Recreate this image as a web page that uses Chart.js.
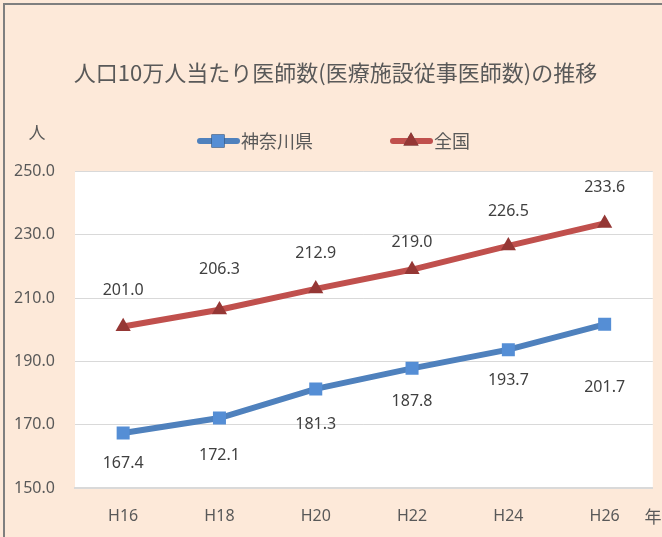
<!DOCTYPE html>
<html lang="ja">
<head>
<meta charset="utf-8">
<title>人口10万人当たり医師数の推移</title>
<script src="https://cdn.jsdelivr.net/npm/chart.js@4.4.1/dist/chart.umd.min.js"></script>
<style>
  html, body { margin: 0; padding: 0; background: #FDE9D9; overflow: hidden; }
  #wrap { position: relative; width: 662px; height: 537px; }
</style>
</head>
<body>
<div id="wrap"><canvas id="chart"></canvas></div>
<script>
const years = ["H16", "H18", "H20", "H22", "H24", "H26"];
const kanagawa = [167.4, 172.1, 181.3, 187.8, 193.7, 201.7];
const national = [201.0, 206.3, 212.9, 219.0, 226.5, 233.6];
const yTicks = [150, 170, 190, 210, 230, 250];

// vertical shift of each value label from its point (px)
const kanagawaLabelShift = [31, 37, 36, 33, 31, 63];
const nationalLabelShift = [-36, -40, -35, -27, -34, -36];

const TEXT = "#595959";
const LABEL = "#404040";
const FONT = "'Noto Sans', 'Noto Sans CJK JP', sans-serif";
const JP_FONT = "'Noto Sans CJK JP', 'Noto Sans', sans-serif";

// white plot area, frame lines and the axis unit captions
const backdrop = {
    id: "backdrop",
    beforeDraw(chart) {
        const { ctx, chartArea: a } = chart;
        ctx.save();
        ctx.fillStyle = "#FFFFFF";
        ctx.fillRect(a.left, a.top, a.right - a.left, a.bottom - a.top);
        ctx.strokeStyle = "#7F7F7F";
        ctx.lineWidth = 2;
        ctx.beginPath();
        ctx.moveTo(4, chart.height);
        ctx.lineTo(4, 4);
        ctx.lineTo(chart.width, 4);
        ctx.stroke();
        ctx.restore();
    },
    afterDraw(chart) {
        const { ctx } = chart;
        ctx.save();
        ctx.fillStyle = TEXT;
        ctx.font = "17px " + JP_FONT;
        ctx.textAlign = "center";
        ctx.textBaseline = "middle";
        ctx.fillText("人", 37, 133);
        ctx.fillText("年", 653, 517);
        ctx.restore();
    },
};

// line + marker legend entries
const lineLegend = {
    id: "lineLegend",
    afterDraw(chart) {
        const { ctx } = chart;
        const spots = [197, 390];
        const y = 141;
        ctx.save();
        chart.data.datasets.forEach((ds, i) => {
            const x = spots[i];
            ctx.strokeStyle = ds.borderColor;
            ctx.lineWidth = ds.borderWidth;
            ctx.lineCap = "round";
            ctx.beginPath();
            ctx.moveTo(x + 3, y);
            ctx.lineTo(x + 40, y);
            ctx.stroke();
            Chart.helpers.drawPoint(ctx, {
                pointStyle: ds.pointStyle,
                radius: ds.pointRadius,
                borderWidth: 0,
            }, x + 21, y);
            ctx.fillStyle = ds.pointBackgroundColor;
            ctx.fill();
            ctx.fillStyle = TEXT;
            ctx.font = "18px " + JP_FONT;
            ctx.textAlign = "left";
            ctx.textBaseline = "middle";
            ctx.fillText(ds.label, x + 44, y);
        });
        ctx.restore();
    },
};

// value labels next to every point
const valueLabels = {
    id: "valueLabels",
    afterDatasetsDraw(chart) {
        const { ctx } = chart;
        ctx.save();
        ctx.fillStyle = LABEL;
        ctx.font = "16px " + FONT;
        ctx.textAlign = "center";
        ctx.textBaseline = "middle";
        chart.data.datasets.forEach((ds, i) => {
            chart.getDatasetMeta(i).data.forEach((pt, j) => {
                ctx.fillText(ds.data[j].toFixed(1), pt.x, pt.y + ds.labelShift[j]);
            });
        });
        ctx.restore();
    },
};

new Chart(document.getElementById("chart"), {
    type: "line",
    data: {
        labels: years,
        datasets: [
            {
                label: "神奈川県",
                data: kanagawa,
                labelShift: kanagawaLabelShift,
                borderColor: "#4F81BD",
                borderWidth: 6,
                pointStyle: "rect",
                pointRadius: 9.2,
                pointBackgroundColor: "#558ED5",
                pointBorderWidth: 0,
                tension: 0,
            },
            {
                label: "全国",
                data: national,
                labelShift: nationalLabelShift,
                borderColor: "#C0504D",
                borderWidth: 6,
                pointStyle: "triangle",
                pointRadius: 8.8,
                pointBackgroundColor: "#953735",
                pointBorderWidth: 0,
                tension: 0,
            },
        ],
    },
    options: {
        responsive: true,
        maintainAspectRatio: false,
        animation: false,
        layout: {
            padding: { left: 14, right: 5, top: 0, bottom: 0 },
        },
        plugins: {
            legend: { display: false },
            tooltip: { enabled: false },
            title: {
                display: true,
                text: "人口10万人当たり医師数(医療施設従事医師数)の推移",
                color: TEXT,
                font: { family: JP_FONT, size: 22, weight: "normal" },
                padding: { top: 59, bottom: 86 },
            },
        },
        scales: {
            x: {
                offset: true,
                grid: { display: false, drawTicks: false },
                border: { display: true, color: "#D9D9D9", width: 2 },
                ticks: {
                    color: TEXT,
                    font: { family: FONT, size: 16 },
                    padding: 19,
                },
                afterFit(scale) {
                    scale.height = 49;
                },
            },
            y: {
                min: 150,
                max: 250,
                afterBuildTicks(scale) {
                    scale.ticks = yTicks.map((v) => ({ value: v }));
                },
                grid: { color: "#D9D9D9", lineWidth: 1, drawTicks: false },
                border: { display: false },
                ticks: {
                    color: TEXT,
                    font: { family: FONT, size: 16 },
                    crossAlign: "far",
                    padding: 0,
                    callback: (v) => Number(v).toFixed(1),
                },
                afterFit(scale) {
                    scale.width = 61;
                },
            },
        },
    },
    plugins: [backdrop, lineLegend, valueLabels],
});
</script>
</body>
</html>
